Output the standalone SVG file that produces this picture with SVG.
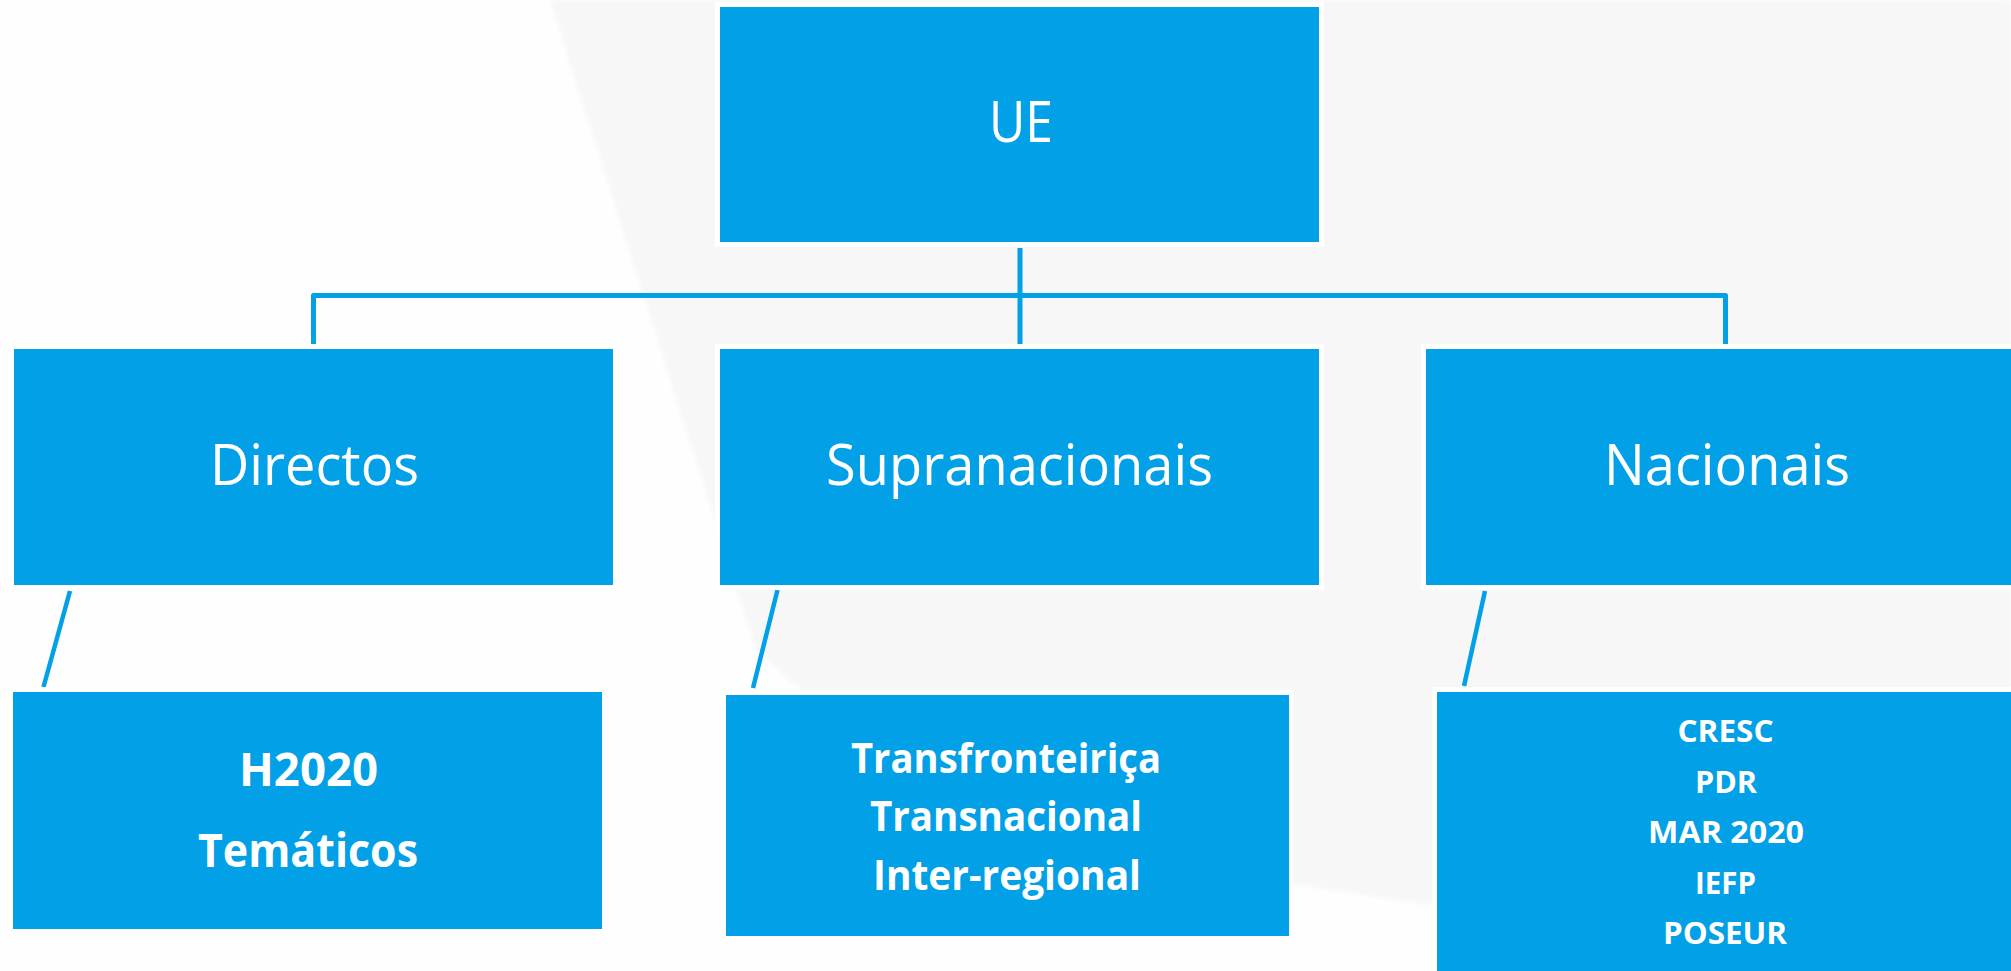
<svg xmlns="http://www.w3.org/2000/svg" width="2011" height="971" viewBox="0 0 2011 971">
<style>
.halo{fill:#FFFFFF}
.box{fill:#02A0E6}
.conn{fill:none;stroke:#02A0E6;stroke-width:5;stroke-linejoin:round}
.slant{fill:none;stroke:#02A0E6;stroke-width:4.5}
.lt{font-family:"Open Sans","Lato","Liberation Sans",sans-serif;font-weight:400;font-size:56px;fill:#FFFFFF;text-anchor:middle}
.bd{font-family:"Open Sans","Lato","Liberation Sans",sans-serif;font-weight:700;fill:#FFFFFF;text-anchor:middle}
</style>
<defs>
<filter id="soft" x="-5%" y="-5%" width="110%" height="110%"><feGaussianBlur stdDeviation="2"/></filter>
</defs>
<rect x="0" y="0" width="2011" height="971" fill="#FEFEFE"/>
<polygon points="550,0 2011,0 2011,990 1430,905 1100,855 900,770 790,680 756,650" fill="#F7F7F7" filter="url(#soft)"/>

<g id="connectors">
<path class="conn" d="M313.5,344 V295.5 H1725.5 V344 M1020,248 V344"/>
<line class="slant" x1="70" y1="591" x2="43.5" y2="687"/>
<line class="slant" x1="777.5" y1="590" x2="753" y2="688"/>
<line class="slant" x1="1485" y1="591" x2="1464" y2="686"/>
</g>

<g id="node-ue">
<rect class="halo" x="715" y="2" width="609" height="245"/>
<rect class="box" x="720" y="7" width="599" height="235"/>
<text class="lt" x="1021" y="142" textLength="64" lengthAdjust="spacingAndGlyphs">UE</text>
</g>

<g id="node-directos">
<rect class="halo" x="9" y="344" width="609" height="246"/>
<rect class="box" x="14" y="349" width="599" height="236"/>
<text class="lt" x="314.5" y="485" textLength="209" lengthAdjust="spacingAndGlyphs">Directos</text>
</g>

<g id="node-supranacionais">
<rect class="halo" x="715" y="344" width="609" height="246"/>
<rect class="box" x="720" y="349" width="599" height="236"/>
<text class="lt" x="1019.5" y="485" textLength="387" lengthAdjust="spacingAndGlyphs">Supranacionais</text>
</g>

<g id="node-nacionais">
<rect class="halo" x="1421" y="344" width="609" height="246"/>
<rect class="box" x="1426" y="349" width="599" height="236"/>
<text class="lt" x="1727" y="485" textLength="246" lengthAdjust="spacingAndGlyphs">Nacionais</text>
</g>

<g id="node-h2020">
<rect class="halo" x="8" y="687" width="599" height="247"/>
<rect class="box" x="13" y="692" width="589" height="237"/>
<text class="bd" x="308.5" y="785.5" font-size="47" textLength="139" lengthAdjust="spacingAndGlyphs">H2020</text>
<text class="bd" x="308" y="866.5" font-size="47" textLength="220" lengthAdjust="spacingAndGlyphs">Temáticos</text>
</g>

<g id="node-transfronteirica">
<rect class="halo" x="721" y="690" width="572" height="251"/>
<rect class="box" x="726" y="695" width="563" height="241"/>
<text class="bd" x="1006" y="772.5" font-size="42" textLength="310" lengthAdjust="spacingAndGlyphs">Transfronteiriça</text>
<text class="bd" x="1006" y="831" font-size="42" textLength="272" lengthAdjust="spacingAndGlyphs">Transnacional</text>
<text class="bd" x="1007" y="890" font-size="42" textLength="268" lengthAdjust="spacingAndGlyphs">Inter-regional</text>
</g>

<g id="node-cresc">
<rect class="halo" x="1432" y="687" width="590" height="300"/>
<rect class="box" x="1437" y="692" width="580" height="290"/>
<text class="bd" x="1725.5" y="741.7" font-size="31" textLength="96" lengthAdjust="spacingAndGlyphs">CRESC</text>
<text class="bd" x="1726" y="792.7" font-size="31" textLength="62" lengthAdjust="spacingAndGlyphs">PDR</text>
<text class="bd" x="1726" y="843.3" font-size="31" textLength="156" lengthAdjust="spacingAndGlyphs">MAR 2020</text>
<text class="bd" x="1725.5" y="894" font-size="31" textLength="61" lengthAdjust="spacingAndGlyphs">IEFP</text>
<text class="bd" x="1725" y="944.3" font-size="31" textLength="124" lengthAdjust="spacingAndGlyphs">POSEUR</text>
</g>
</svg>
